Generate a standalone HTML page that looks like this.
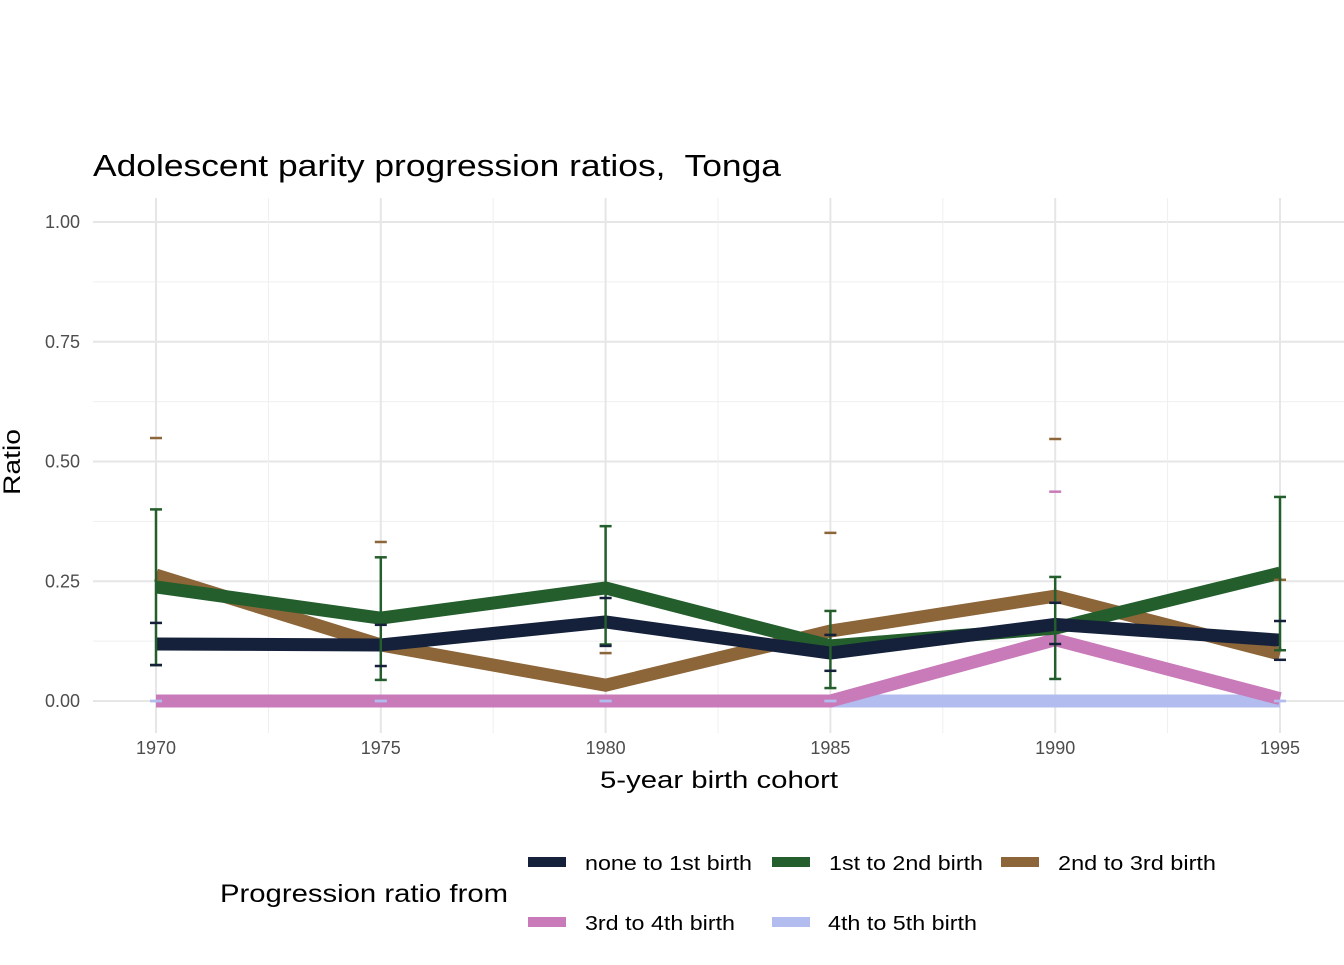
<!DOCTYPE html>
<html><head><meta charset="utf-8"><style>
body{margin:0;background:#fff;}
svg text{font-family:"Liberation Sans",Arial,sans-serif;}
</style></head><body>
<svg id="chart" width="1344" height="960" xmlns="http://www.w3.org/2000/svg">
<text x="93" y="176" font-size="31" fill="#000" textLength="688" lengthAdjust="spacingAndGlyphs">Adolescent parity progression ratios,&#160; Tonga</text>
<g id="grid"></g>
<g id="ticks"></g>
<text transform="translate(20,462) rotate(-90)" text-anchor="middle" font-size="24" fill="#000" textLength="66" lengthAdjust="spacingAndGlyphs">Ratio</text>
<text x="600" y="788" font-size="24" fill="#000" textLength="238" lengthAdjust="spacingAndGlyphs">5-year birth cohort</text>
<g id="series"></g>
<g id="legend">
<text x="220" y="902" font-size="25" fill="#000" textLength="288" lengthAdjust="spacingAndGlyphs">Progression ratio from</text>
</g>
</svg>
<script>
const years=[1970,1975,1980,1985,1990,1995];
const names=["none to 1st birth","1st to 2nd birth","2nd to 3rd birth","3rd to 4th birth","4th to 5th birth"];
const colors=["#15213a","#235e2c","#8c6539","#c87ab9","#b3bcef"];
const vNone=[0.119,0.117,0.165,0.10,0.16,0.127];
const vFirst=[0.238,0.173,0.236,0.115,0.152,0.267];
const vSecond=[0.263,0.117,0.033,0.146,0.219,0.098];
const vThird=[0,0,0,0,0.128,0.005];
const vFourth=[0,0,0,0,0,0];
const upNone=[0.163,0.159,0.215,0.138,0.205,0.167];
const loNone=[0.075,0.073,0.115,0.063,0.119,0.086];
const upFirst=[0.40,0.30,0.365,0.188,0.259,0.426];
const loFirst=[0.075,0.044,0.118,0.027,0.046,0.106];
const upSecond=[0.549,0.332,0.10,0.351,0.547,0.253];
const loSecond=[0,0,0,0,0,0];
const upThird=[0,0,0,0,0.437,0];
const loThird=[0,0,0,0,0,0];
const upFourth=[0,0,0,0,0,0];
const loFourth=[0,0,0,0,0,0];
const yTicks=[0,0.25,0.5,0.75,1.0];
const yTickLabels=["0.00","0.25","0.50","0.75","1.00"];
const xTicks=[1970,1975,1980,1985,1990,1995];

const NS="http://www.w3.org/2000/svg";
const X=y=>156+(y-1970)*(1280-156)/25;
const Y=v=>701-v*479;
function mk(tag,attrs,parent){const e=document.createElementNS(NS,tag);for(const k in attrs)e.setAttribute(k,attrs[k]);parent.appendChild(e);return e;}
const grid=document.getElementById('grid'),ticks=document.getElementById('ticks'),ser=document.getElementById('series'),leg=document.getElementById('legend');
for(let i=0;i<yTicks.length;i++){
  const v=yTicks[i];
  const l=mk('line',{x1:93,x2:1344,y1:Y(v),y2:Y(v),stroke:'#e6e6e6','stroke-width':2},grid);
  
  
  if(i<yTicks.length-1){const m=mk('line',{x1:93,x2:1344,y1:Y(v+0.125),y2:Y(v+0.125),stroke:'#efefef','stroke-width':1},grid);
  
  }
  const t=mk('text',{x:80,y:Y(v)+6,'text-anchor':'end','font-size':18,fill:'#4d4d4d'},ticks);t.textContent=yTickLabels[i];
  
  
}
for(let i=0;i<xTicks.length;i++){
  const v=xTicks[i];
  const l=mk('line',{x1:X(v),x2:X(v),y1:198,y2:733,stroke:'#e6e6e6','stroke-width':2},grid);
  
  
  if(i<xTicks.length-1){const m=mk('line',{x1:X(v+2.5),x2:X(v+2.5),y1:198,y2:733,stroke:'#efefef','stroke-width':1},grid);
  
  }
  const t=mk('text',{x:X(v),y:754,'text-anchor':'middle','font-size':18,fill:'#4d4d4d'},ticks);t.textContent=String(v);
  
  
}
const vals=[vNone,vFirst,vSecond,vThird,vFourth];
const ups=[upNone,upFirst,upSecond,upThird,upFourth];
const los=[loNone,loFirst,loSecond,loThird,loFourth];
const order=[4,3,2,1,0];
for(const s of order){
  const pts=years.map((y,i)=>X(y)+','+Y(vals[s][i])).join(' ');
  const p=mk('polyline',{points:pts,fill:'none',stroke:colors[s],'stroke-width':13,'stroke-linejoin':'miter'},ser);
  
  
}
for(const s of [3,2,1,0,4]){
  years.forEach((y,i)=>{
    const g=mk('g',{stroke:colors[s],'stroke-width':2.5},ser);
    
    
    if(s===1) mk('line',{x1:X(y),x2:X(y),y1:Y(ups[s][i]),y2:Y(los[s][i])},g);
    if(ups[s][i]>0||s===4) mk('line',{x1:X(y)-6,x2:X(y)+6,y1:Y(ups[s][i]),y2:Y(ups[s][i])},g);
    if(los[s][i]>0||s===4) mk('line',{x1:X(y)-6,x2:X(y)+6,y1:Y(los[s][i]),y2:Y(los[s][i])},g);
  });
}
const lpos=[[528,862,585,167],[772,862,829,154],[1001,862,1058,158],[528,922,585,150],[772,922,828,149]];
names.forEach((n,i)=>{
  const [kx,ky,tx,tw]=lpos[i];
  const g=mk('g',{},leg);
  
  
  mk('rect',{x:kx,y:ky-5,width:38,height:10,fill:colors[i]},g);
  const t=mk('text',{x:tx,y:ky+8,'font-size':20,fill:'#000',textLength:tw,lengthAdjust:'spacingAndGlyphs'},g);t.textContent=n;
});
</script>
</body></html>
